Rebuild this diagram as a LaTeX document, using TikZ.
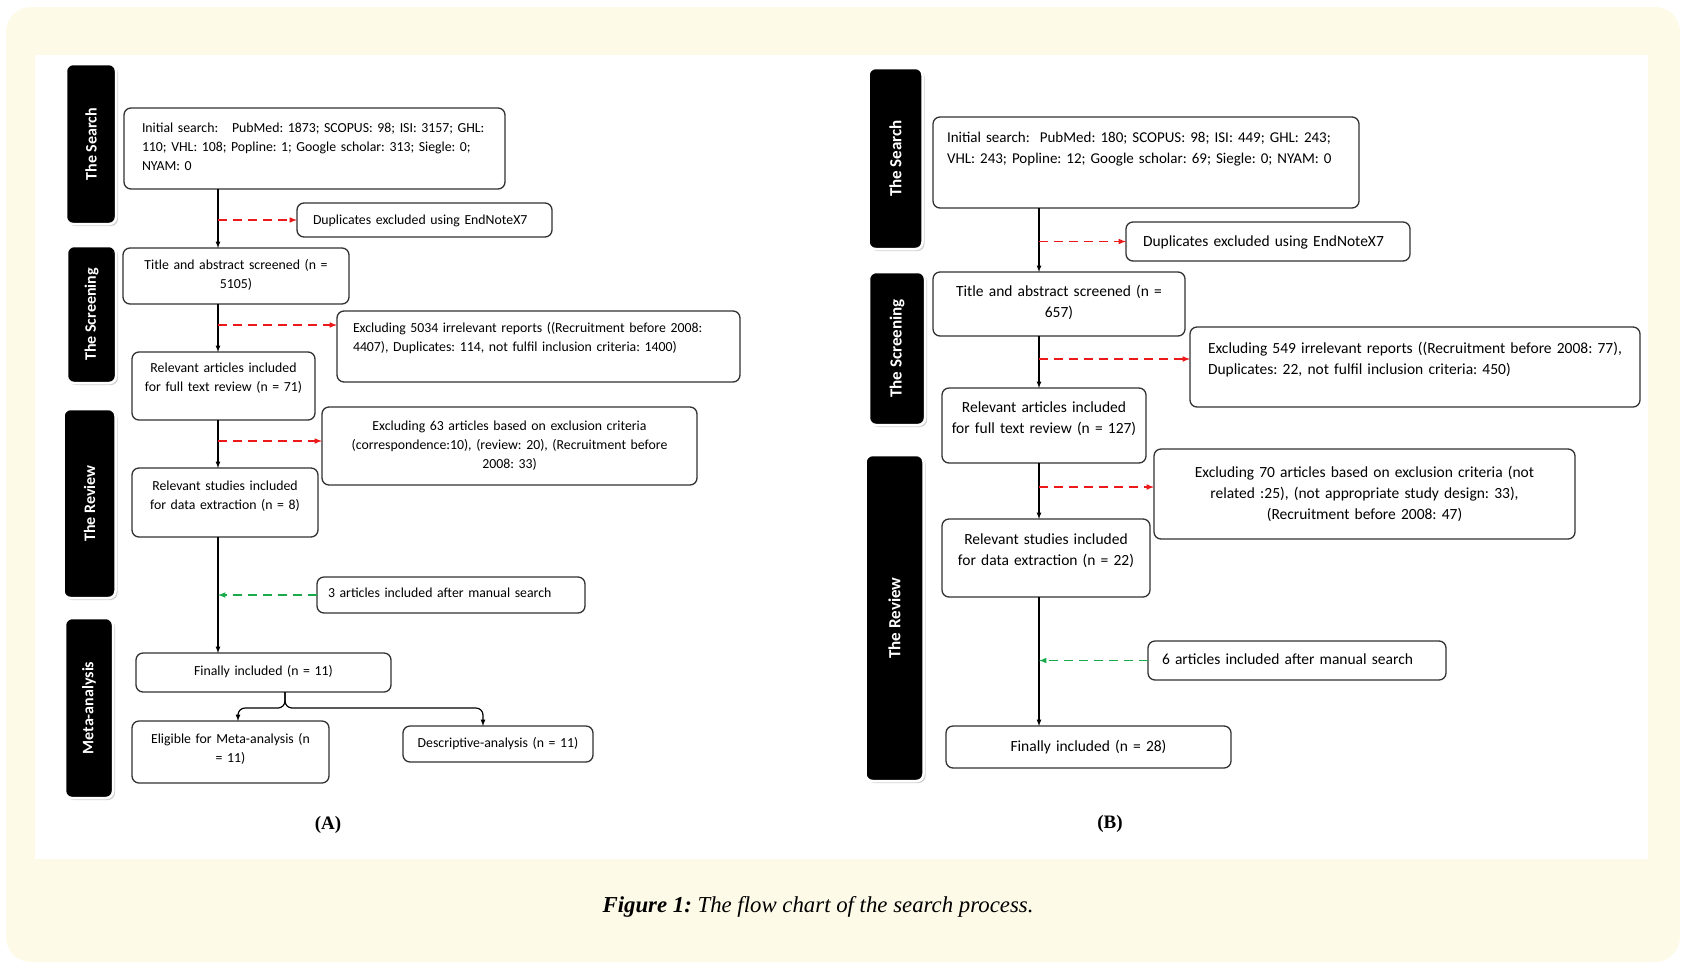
\documentclass[tikz,border=0pt]{standalone}
\usepackage{fontspec}
\setmainfont{Carlito}
\newfontfamily\capfont{Liberation Serif}
\usepackage{tikz, graphicx}
\usetikzlibrary{shadows}
\definecolor{cream}{RGB}{254,250,232}
\definecolor{boxgray}{RGB}{50,50,50}
\definecolor{myred}{RGB}{235,25,25}
\definecolor{mygreen}{RGB}{25,170,75}
\frenchspacing

\begin{document}
\begin{tikzpicture}[x=1pt, y=-1pt, >=latex, font=\fontsize{13.8}{19}\selectfont,
		mybox/.style={draw=boxgray, line width=1.3pt, rounded corners=7pt, fill=white, inner ysep=0pt, outer sep=0pt, anchor=base},
		phase/.style={fill=black, draw=white, line width=2.5pt, rounded corners=7pt, text=white, inner sep=0pt, font=\fontsize{16}{16}\selectfont\bfseries, drop shadow={shadow xshift=2pt, shadow yshift=-2pt, fill=gray!35, opacity=1}},
		flow/.style={->, line width=1.2pt, black},
		redarrow/.style={->, myred, line width=1.5pt, dash pattern=on 9pt off 6pt},
		greenarrow/.style={->, mygreen, line width=1.5pt, dash pattern=on 9pt off 6pt}]
				%Hintergrund zeichnen
				\useasboundingbox (0,0) rectangle (1685,967);
				\fill[white] (0,0) rectangle (1685,967);
				\fill[cream, rounded corners=25pt] (6,7) rectangle (1680,962);
				\fill[white] (35,55) rectangle (1648,859);
				% Phasen-Balken (A)
				\node[phase, minimum width=50pt, minimum height=160pt] (aBarS) at (91,144) {\rotatebox{90}{The Search}};
				\node[phase, minimum width=49pt, minimum height=137pt] (aBarC) at (91.5,314.5) {\rotatebox{90}{The Screening}};
				\node[phase, minimum width=52pt, minimum height=189pt] (aBarR) at (89.5,503.5) {\rotatebox{90}{The Review}};
				\node[phase, minimum width=48pt, minimum height=180pt] (aBarM) at (89,708) {\rotatebox{90}{Meta-analysis}};
				% Kaesten (A)
				\node[mybox, align=left, text width=345pt, inner xsep=18pt, text height=24pt, text depth=57pt] (aInit) at (314.5,132) {Initial search:\quad PubMed: 1873; SCOPUS: 98; ISI: 3157; GHL:\\110; VHL: 108; Popline: 1; Google scholar: 313; Siegle: 0;\\NYAM: 0};
				\node[mybox, align=left, text width=223pt, inner xsep=16pt, text height=21pt, text depth=13pt] (aDup) at (424.5,224) {Duplicates excluded using EndNoteX7};
				\node[mybox, align=center, text width=206pt, inner xsep=10pt, text height=21pt, text depth=35pt] (aTitle) at (236,269) {Title and abstract screened (n =\\5105)};
				\node[mybox, align=left, text width=371pt, inner xsep=16pt, text height=21pt, text depth=50pt] (aEx1) at (538.5,332) {Excluding 5034 irrelevant reports ((Recruitment before 2008:\\4407), Duplicates: 114, not fulfil inclusion criteria: 1400)};
				\node[mybox, align=center, text width=167pt, inner xsep=8pt, text height=20pt, text depth=48pt] (aRel) at (223.5,372) {Relevant articles included\\for full text review (n = 71)};
				\node[mybox, align=center, text width=343pt, inner xsep=16pt, text height=23pt, text depth=55pt] (aEx2) at (509.5,430) {Excluding 63 articles based on exclusion criteria\\(correspondence:10), (review: 20), (Recruitment before\\2008: 33)};
				\node[mybox, align=center, text width=170pt, inner xsep=8pt, text height=22pt, text depth=47pt] (aStu) at (225,490) {Relevant studies included\\for data extraction (n = 8)};
				\node[mybox, align=left, text width=246pt, inner xsep=11pt, text height=20pt, text depth=16pt] (aMan) at (451,597) {3 articles included after manual search};
				\node[mybox, align=center, text width=235pt, inner xsep=10pt, text height=22pt, text depth=17pt] (aFin) at (263.5,675) {Finally included (n = 11)};
				\node[mybox, align=center, text width=181pt, inner xsep=8pt, text height=22pt, text depth=40pt] (aElig) at (230.5,743) {Eligible for Meta-analysis (n\\= 11)};
				\node[mybox, align=center, text width=174pt, inner xsep=8pt, text height=21pt, text depth=15pt] (aDesc) at (498,747) {Descriptive-analysis (n = 11)};
				% Pfeile (A)
				\coordinate (aTrunk) at (218,0);
				\draw[flow] (aInit.south -| aTrunk) -- (aTitle.north -| aTrunk);
				\draw[flow] (aTitle.south -| aTrunk) -- (aRel.north -| aTrunk);
				\draw[flow] (aRel.south -| aTrunk) -- (aStu.north -| aTrunk);
				\draw[flow] (aStu.south -| aTrunk) -- (aFin.north -| aTrunk);
				\draw[redarrow] (aDup.west -| aTrunk) -- (aDup.west);
				\draw[redarrow] (aTrunk |- 0,325) -- (aEx1.west |- 0,325);
				\draw[redarrow] (aTrunk |- 0,441) -- (aEx2.west |- 0,441);
				\draw[greenarrow] (aMan.west) -- (aMan.west -| aTrunk);
				\coordinate (aSplit) at (285,708);
				\draw[flow, rounded corners=7pt] (aSplit |- aFin.south) -- (aSplit) -| ([xshift=7.5pt]aElig.north);
				\draw[flow, rounded corners=7pt] (aSplit |- aFin.south) -- (aSplit) -| ([xshift=-15pt]aDesc.north);
				% Phasen-Balken (B)
				\node[phase, minimum width=54pt, minimum height=181pt, font=\fontsize{17}{17}\selectfont\bfseries] (bBarS) at (895.5,158.5) {\rotatebox{90}{The Search}};
				\node[phase, minimum width=56pt, minimum height=153pt, font=\fontsize{17}{17}\selectfont\bfseries] (bBarC) at (897,348.5) {\rotatebox{90}{The Screening}};
				\node[phase, minimum width=58pt, minimum height=326pt, font=\fontsize{17}{17}\selectfont\bfseries] (bBarR) at (894.5,618) {\rotatebox{90}{The Review}};
				% Kaesten (B)
				\begin{scope}[font=\fontsize{15.5}{21}\selectfont]
				\node[mybox, align=left, text width=398pt, inner xsep=14pt, text height=25pt, text depth=66pt, font=\fontsize{15}{21}\selectfont] (bInit) at (1146,142) {Initial search:\ \ PubMed: 180; SCOPUS: 98; ISI: 449; GHL: 243;\\VHL: 243; Popline: 12; Google scholar: 69; Siegle: 0; NYAM: 0};
				\node[mybox, align=left, text width=250pt, inner xsep=17pt, text height=24pt, text depth=15pt] (bDup) at (1268,246) {Duplicates excluded using EndNoteX7};
				\node[mybox, align=center, text width=232pt, inner xsep=10pt, text height=24pt, text depth=40pt] (bTitle) at (1059,296) {Title and abstract screened (n =\\657)};
				\node[mybox, align=left, text width=414pt, inner xsep=18pt, text height=26pt, text depth=54pt] (bEx1) at (1415,353) {Excluding 549 irrelevant reports ((Recruitment before 2008: 77),\\Duplicates: 22, not fulfil inclusion criteria: 450)};
				\node[mybox, align=center, text width=192pt, inner xsep=6pt, text height=24pt, text depth=51pt] (bRel) at (1044,412) {Relevant articles included\\for full text review (n = 127)};
				\node[mybox, align=center, text width=389pt, inner xsep=16pt, text height=28pt, text depth=62pt] (bEx2) at (1364.5,477) {Excluding 70 articles based on exclusion criteria (not\\related :25), (not appropriate study design: 33),\\(Recruitment before 2008: 47)};
				\node[mybox, align=center, text width=192pt, inner xsep=8pt, text height=25pt, text depth=53pt] (bStu) at (1046,544) {Relevant studies included\\for data extraction (n = 22)};
				\node[mybox, align=left, text width=270pt, inner xsep=14pt, text height=23pt, text depth=16pt] (bMan) at (1297,664) {6 articles included after manual search};
				\node[mybox, align=center, text width=265pt, inner xsep=10pt, text height=25pt, text depth=17pt] (bFin) at (1088.5,751) {Finally included (n = 28)};
				\end{scope}
				% Pfeile (B)
				\coordinate (bTrunk) at (1039,0);
				\draw[flow] (bInit.south -| bTrunk) -- (bTitle.north -| bTrunk);
				\draw[flow] (bTitle.south -| bTrunk) -- (bRel.north -| bTrunk);
				\draw[flow] (bRel.south -| bTrunk) -- (bStu.north -| bTrunk);
				\draw[flow] (bStu.south -| bTrunk) -- (bFin.north -| bTrunk);
				\draw[redarrow] (bDup.west -| bTrunk) -- (bDup.west);
				\draw[redarrow] (bTrunk |- 0,359) -- (bEx1.west |- 0,359);
				\draw[redarrow] (bTrunk |- 0,487) -- (bEx2.west |- 0,487);
				\draw[greenarrow] (bMan.west) -- (bMan.west -| bTrunk);
				%Beschriftung
				\node[font=\capfont\bfseries\fontsize{19}{19}\selectfont] (labA) at (328,825) {(A)};
				\node[font=\capfont\bfseries\fontsize{19}{19}\selectfont] (labB) at (1110,824) {(B)};
				\node[font=\capfont\itshape\fontsize{22.8}{23}\selectfont] (caption) at (818,907) {\textbf{Figure 1:} The flow chart of the search process.};
\end{tikzpicture}
\end{document}
